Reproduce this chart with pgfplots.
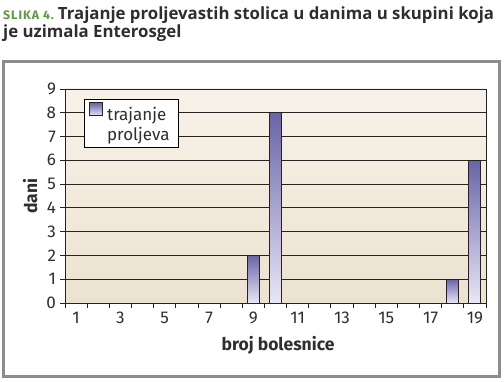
\documentclass[border=0pt]{standalone}
\usepackage{fontspec}
\setmainfont{Fira Sans}
\newfontfamily\titlefont{Open Sans}
\newfontfamily\slikafont[LetterSpace=8]{Fira Sans}
\usepackage{pgfplots}
\pgfplotsset{compat=1.18}
\definecolor{barTop}{HTML}{6864A8}
\definecolor{barBot}{HTML}{E8E7F6}
\definecolor{bgTop}{HTML}{F7F2E9}
\definecolor{bgBot}{HTML}{ECE2D0}
\definecolor{frameGray}{HTML}{8C8C8C}
\definecolor{titleGreen}{HTML}{5B9A3E}
\definecolor{titleDark}{HTML}{2E2E2E}
\definecolor{gridDark}{HTML}{2A2222}
\begin{document}
\begin{tikzpicture}[x=1pt,y=1pt]
\useasboundingbox (0,0) rectangle (504,382);
% title
\node[anchor=base west, inner sep=0pt, text=titleDark] at (3,362.5)
  {{\color{titleGreen}\slikafont\bfseries\fontsize{12.3}{13}\selectfont SLIKA 4.}\hspace{4pt}{\titlefont\fontsize{16.8}{18}\selectfont\bfseries Trajanje proljevastih stolica u danima u skupini koja}};
\node[anchor=base west, inner sep=0pt, text=titleDark] at (3,344.5)
  {\titlefont\fontsize{16.8}{18}\selectfont\bfseries je uzimala Enterosgel};
% frame
\draw[line width=3pt, frameGray] (3.5,5.5) rectangle (499,320.5);
\begin{axis}[
  scale only axis, width=421pt, height=214pt,
  at={(65pt,79pt)}, anchor=south west,
  xmin=0.5, xmax=19.5, ymin=0, ymax=9,
  ybar, bar width=12pt,
  xtick={1,3,...,19},
  minor xtick={0.5,1.5,...,19.5},
  ytick={0,1,...,9},
  ymajorgrids,
  major grid style={gridDark, line width=0.9pt},
  axis line style={gridDark, line width=0.9pt},
  tick align=outside, xtick pos=bottom, ytick pos=left,
  major x tick style={draw=none},
  minor x tick style={gridDark, line width=0.8pt},
  major y tick style={gridDark, line width=0.8pt},
  major tick length=5pt, minor tick length=5pt,
  axis background/.style={top color=bgTop, bottom color=bgBot},
  tick label style={font=\fontsize{17}{20}\selectfont, text=titleDark},
  /pgf/number format/assume math mode=true,
  xticklabel style={yshift=-0.5pt},
  yticklabel style={xshift=-0.5pt},
  xlabel={broj bolesnice},
  ylabel={dani},
  every axis x label/.style={at={(axis description cs:0.506,-0.196)}, anchor=center,
    font=\fontsize{17.5}{20}\selectfont\bfseries, text=titleDark},
  every axis y label/.style={at={(axis description cs:-0.083,0.5)}, rotate=90, anchor=center,
    font=\fontsize{17.5}{20}\selectfont\bfseries, text=titleDark},
  legend style={at={(0.045,0.953)}, anchor=north west, draw=black, line width=0.8pt,
    fill=white, font=\fontsize{17}{20}\selectfont, text=titleDark,
    inner xsep=5pt, inner ysep=3pt, row sep=1pt,
    nodes={inner xsep=4pt}},
  legend cell align=left,
  legend image code/.code={\draw[draw=gridDark, line width=0.8pt, top color=barTop, bottom color=barBot] (0pt,-1pt) rectangle (13pt,12pt);},
]
\addplot[bar shift=0pt, draw=gridDark, line width=0.9pt, top color=barTop, bottom color=barBot]
  coordinates {(9,2)};
\addlegendentry{trajanje}
\addlegendimage{empty legend}
\addlegendentry{proljeva}
\addplot[forget plot, bar shift=0pt, draw=gridDark, line width=0.9pt, top color=barTop, bottom color=barBot]
  coordinates {(10,8)};
\addplot[forget plot, bar shift=0pt, draw=gridDark, line width=0.9pt, top color=barTop, bottom color=barBot]
  coordinates {(18,1)};
\addplot[forget plot, bar shift=0pt, draw=gridDark, line width=0.9pt, top color=barTop, bottom color=barBot]
  coordinates {(19,6)};
\end{axis}
\end{tikzpicture}
\end{document}
